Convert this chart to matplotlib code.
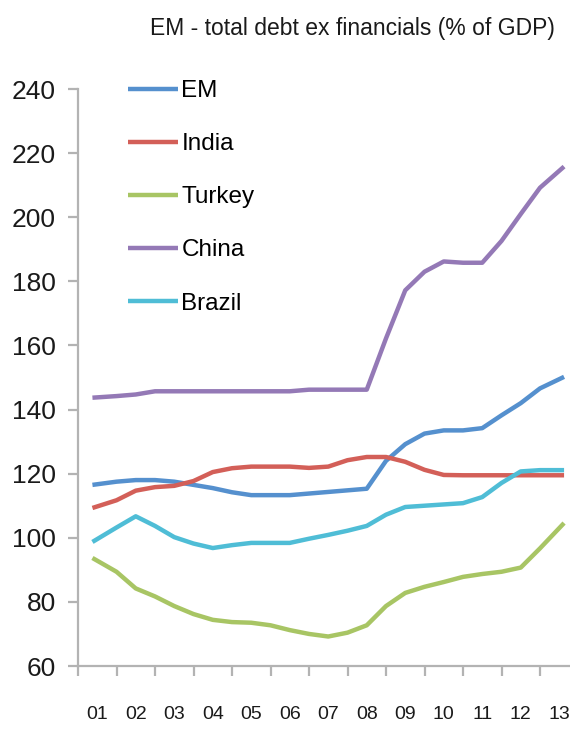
import numpy as np
import matplotlib
matplotlib.use("Agg")
import matplotlib.pyplot as plt

plt.rcParams['font.family'] = ['Liberation Sans Narrow', 'Liberation Sans', 'DejaVu Sans']

title = "EM - total debt ex financials (% of GDP)"
years = ["01", "02", "03", "04", "05", "06", "07", "08", "09", "10", "11", "12", "13"]

# half-yearly readings, 2001 to 2013
em = [116.5, 117.5, 118, 118, 117.5, 116.5, 115.5, 114.2, 113.3, 113.3, 113.3, 113.8,
      114.3, 114.8, 115.3, 124, 129.2, 132.5, 133.5, 133.5, 134.2, 138.2, 142, 146.6, 150.2]
india = [109.3, 111.7, 114.7, 115.8, 116.2, 117.7, 120.5, 121.7, 122.2, 122.2, 122.2, 121.8,
         122.2, 124.2, 125.2, 125.2, 123.7, 121.2, 119.6, 119.5, 119.5, 119.5, 119.5, 119.5, 119.5]
turkey = [93.7, 89.4, 84.2, 81.7, 78.7, 76.2, 74.4, 73.7, 73.5, 72.7, 71.2, 70, 69.2,
          70.4, 72.7, 78.7, 82.8, 84.7, 86.2, 87.8, 88.7, 89.4, 90.7, 96.7, 104.6]
china = [143.7, 144.2, 144.7, 145.7, 145.7, 145.7, 145.7, 145.7, 145.7, 145.7, 145.7, 146.2,
         146.2, 146.2, 146.2, 162.2, 177.2, 183, 186.2, 185.8, 185.8, 192.6, 201, 209.2, 215.8]
brazil = [98.7, 103.2, 106.7, 103.7, 100.2, 98.2, 96.8, 97.7, 98.4, 98.4, 98.4, 99.7,
          100.9, 102.2, 103.7, 107.2, 109.6, 110, 110.4, 110.8, 112.7, 117.1, 120.7, 121.1, 121.1]

series = [("EM", em, "#5590CE"),
          ("India", india, "#D35F58"),
          ("Turkey", turkey, "#A8C564"),
          ("China", china, "#9479B6"),
          ("Brazil", brazil, "#4FBDD6")]

# category axis: each year is one band of width 1, data sits inside the bands
t = np.arange(2001.5, 2013.51, 0.5)
t[0] = 2001.375
t[-1] = 2013.625

fig = plt.figure(figsize=(5.70, 7.39), dpi=100)
W, H = 570, 739
ax = fig.add_axes([78 / W, 1 - 666 / H, 500.5 / W, 577 / H])

handles = []
for name, vals, col in series:
    ln, = ax.plot(t, vals, color=col, linewidth=3.2, solid_capstyle="butt", label=name)
    handles.append(ln)

ax.set_xlim(2001, 2014)
ax.set_ylim(60, 240)
ax.set_yticks(np.arange(60, 241, 20))

ax.set_xticks(np.arange(2001, 2015, 1))
ax.set_xticklabels([])
ax.set_xticks(np.arange(2001.5, 2014, 1), minor=True)
ax.set_xticklabels(years, minor=True)

grey = "#B3B3B3"
for s in ["top", "right"]:
    ax.spines[s].set_visible(False)
for s in ["left", "bottom"]:
    ax.spines[s].set_color(grey)
    ax.spines[s].set_linewidth(1.6)

ax.tick_params(axis="y", direction="out", length=7, width=1.6, color=grey,
               labelsize=19, pad=9, labelcolor="#1a1a1a")
ax.tick_params(axis="x", which="major", direction="out", length=7, width=1.6, color=grey)
ax.tick_params(axis="x", which="minor", length=0, labelsize=14, pad=29, labelcolor="#1a1a1a")

ax.legend(handles=handles, loc="upper left", bbox_to_anchor=(128 / W, 1 - 80 / H),
          bbox_transform=fig.transFigure, frameon=False, fontsize=17.5,
          handlelength=2.05, handletextpad=0.15, labelspacing=1.28,
          borderpad=0, borderaxespad=0)

fig.text(555 / W, 1 - 29 / H, title, ha="right", va="center", fontsize=16.5, color="#1a1a1a")

fig.savefig("out.png", dpi=100)
